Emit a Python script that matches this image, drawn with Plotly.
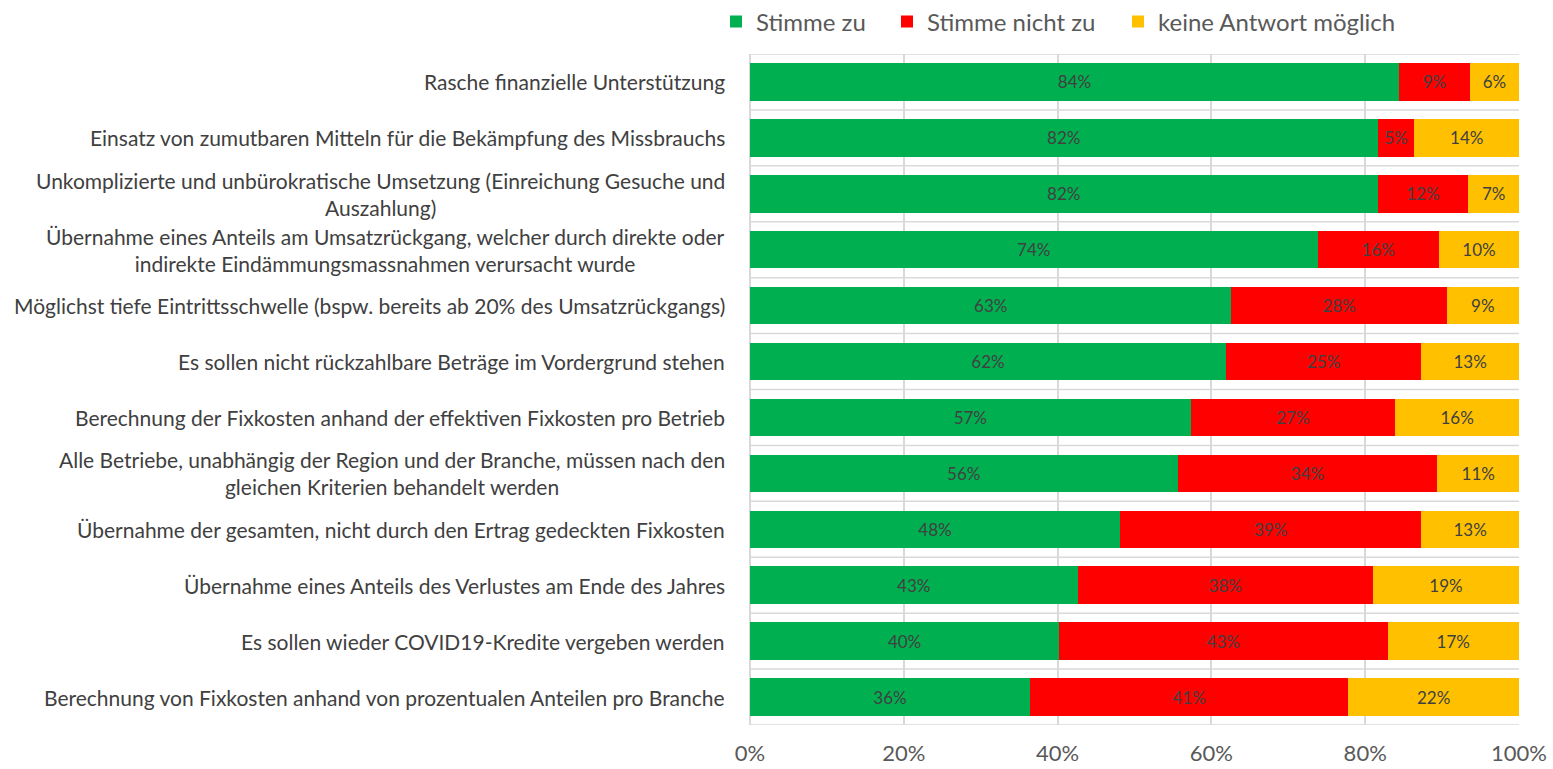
import plotly.graph_objects as go

categories = [
    "Rasche finanzielle Unterstützung",
    "Einsatz von zumutbaren Mitteln für die Bekämpfung des Missbrauchs",
    "Unkomplizierte und unbürokratische Umsetzung (Einreichung Gesuche und<br>Auszahlung)",
    "Übernahme eines Anteils am Umsatzrückgang, welcher durch direkte oder<br>indirekte Eindämmungsmassnahmen verursacht wurde",
    "Möglichst tiefe Eintrittsschwelle (bspw. bereits ab 20% des Umsatzrückgangs)",
    "Es sollen nicht rückzahlbare Beträge im Vordergrund stehen",
    "Berechnung der Fixkosten anhand der effektiven Fixkosten pro Betrieb",
    "Alle Betriebe, unabhängig der Region und der Branche, müssen nach den<br>gleichen Kriterien behandelt werden",
    "Übernahme der gesamten, nicht durch den Ertrag gedeckten Fixkosten",
    "Übernahme eines Anteils des Verlustes am Ende des Jahres",
    "Es sollen wieder COVID19-Kredite vergeben werden",
    "Berechnung von Fixkosten anhand von prozentualen Anteilen pro Branche",
]
stimme_zu = [84.4, 81.6, 81.6, 73.8, 62.6, 61.9, 57.3, 55.6, 48.1, 42.6, 40.2, 36.4]
stimme_nicht_zu = [9.2, 4.8, 11.8, 15.8, 28.0, 25.4, 26.6, 33.8, 39.2, 38.4, 42.7, 41.4]
keine_antwort = [6.4, 13.6, 6.6, 10.4, 9.4, 12.7, 16.1, 10.6, 12.7, 19.0, 17.1, 22.2]

series = [
    ("Stimme zu", stimme_zu, "#00B050"),
    ("Stimme nicht zu", stimme_nicht_zu, "#FF0000"),
    ("keine Antwort möglich", keine_antwort, "#FFC000"),
]
tick_vals = [0, 20, 40, 60, 80, 100]
tick_text = ["0%", "20%", "40%", "60%", "80%", "100%"]

FONT = "Lato"
W, H = 1553, 769
ML, MR, MT, MB = 750, 34, 54, 44
PW = W - ML - MR
idx = list(range(len(categories)))
legend_names = ["legend", "legend2", "legend3"]
legend_left_px = [716, 887, 1118]

fig = go.Figure()
for (name, vals, color), lg in zip(series, legend_names):
    fig.add_trace(go.Bar(
        y=idx, x=vals, name=name, orientation="h", legend=lg, showlegend=True,
        marker=dict(color=color, line=dict(width=0)),
        texttemplate="%{x:.0f}%", textposition="inside", insidetextanchor="middle",
        textfont=dict(family=FONT, size=17, color="#404040"),
        constraintext="none", width=0.67,
    ))

shapes = []
for i in range(len(categories) + 1):
    shapes.append(dict(type="line", xref="x", yref="y", x0=0, x1=100,
                       y0=i - 0.5, y1=i - 0.5, line=dict(color="#D9D9D9", width=1.5),
                       layer="below"))

annotations = []
for i, c in enumerate(categories):
    annotations.append(dict(xref="paper", yref="y", x=-23 / PW, y=i, text=c,
                            xanchor="right", yanchor="middle", align="center",
                            showarrow=False,
                            font=dict(family=FONT, size=21, color="#404040")))

legend_y = (H - MB - 22) / (H - MT - MB)
legend_common = dict(orientation="h", xanchor="left", y=legend_y, yanchor="middle",
                     font=dict(family=FONT, size=24, color="#595959"),
                     itemwidth=30, bgcolor="rgba(0,0,0,0)", borderwidth=0)

fig.update_layout(
    barmode="stack",
    width=W, height=H,
    showlegend=True,
    margin=dict(l=ML, r=MR, t=MT, b=MB, autoexpand=False),
    paper_bgcolor="white", plot_bgcolor="white",
    shapes=shapes, annotations=annotations,
    legend=dict(x=(legend_left_px[0] - ML) / PW, **legend_common),
    legend2=dict(x=(legend_left_px[1] - ML) / PW, **legend_common),
    legend3=dict(x=(legend_left_px[2] - ML) / PW, **legend_common),
    xaxis=dict(range=[0, 100], tickvals=tick_vals, ticktext=tick_text,
               showgrid=True, gridcolor="#D9D9D9", gridwidth=1.5,
               zeroline=True, zerolinecolor="#D9D9D9", zerolinewidth=1.5,
               tickfont=dict(family=FONT, size=22, color="#595959"),
               ticks="", ticklabelstandoff=13, fixedrange=True),
    yaxis=dict(range=[len(categories) - 0.5, -0.5], showticklabels=False,
               showgrid=False, zeroline=False, ticks="", fixedrange=True),
)

fig.write_html("out.html", config={"displayModeBar": False},
               post_script="document.body.style.margin='0';")
